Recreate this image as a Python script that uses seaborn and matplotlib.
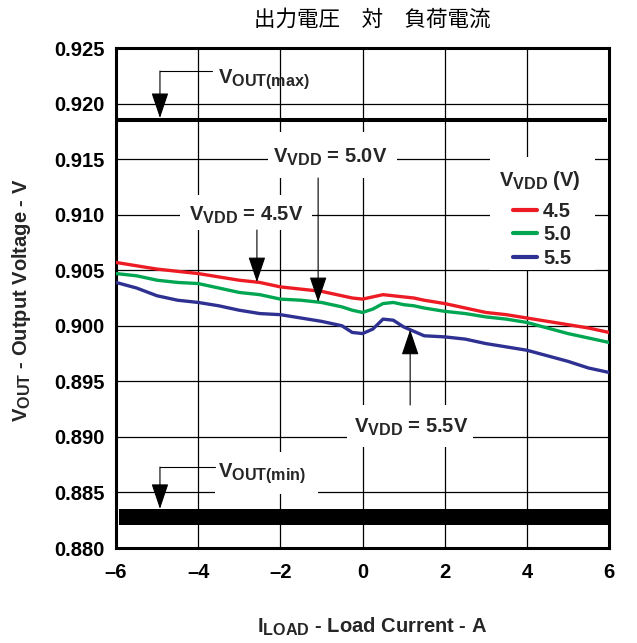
import numpy as np
import pandas as pd
import matplotlib
matplotlib.use("Agg")
import matplotlib.pyplot as plt
import matplotlib._mathtext as mathtext_internals
import seaborn as sns
from matplotlib.patches import Rectangle

# Load current sweep (A) and measured output voltage (V) for each supply voltage
load_current = [-6, -5.5, -5, -4.5, -4, -3.5, -3, -2.5, -2, -1.5, -1, -0.5, -0.25,
                0, 0.25, 0.5, 0.75, 1, 1.25, 1.5, 2, 2.5, 3, 3.5, 4, 4.5, 5, 5.5, 6]
vout_vdd_45 = [0.9057, 0.9054, 0.9051, 0.9049, 0.9047, 0.9044, 0.9041, 0.9039, 0.9035,
               0.9033, 0.9031, 0.9027, 0.9025, 0.9024, 0.9026, 0.9028, 0.9027, 0.9026,
               0.9025, 0.9023, 0.9020, 0.9016, 0.9012, 0.9010, 0.9007, 0.9004, 0.9001,
               0.8998, 0.8994]
vout_vdd_50 = [0.9047, 0.9045, 0.9041, 0.9039, 0.9038, 0.9034, 0.9030, 0.9028, 0.9024,
               0.9023, 0.9021, 0.9017, 0.9014, 0.9012, 0.9015, 0.9020, 0.9021, 0.9019,
               0.9018, 0.9016, 0.9013, 0.9011, 0.9008, 0.9006, 0.9003, 0.8998, 0.8993,
               0.8989, 0.8985]
vout_vdd_55 = [0.9039, 0.9034, 0.9027, 0.9023, 0.9021, 0.9018, 0.9014, 0.9011, 0.9010,
               0.9007, 0.9004, 0.9000, 0.8994, 0.8993, 0.8997, 0.9006, 0.9005, 0.8999,
               0.8995, 0.8991, 0.8990, 0.8988, 0.8984, 0.8981, 0.8978, 0.8973, 0.8968,
               0.8962, 0.8958]
vdd_labels = ["4.5", "5.0", "5.5"]
line_colors = ["#ED1C24", "#00A651", "#2E3192"]

# Output voltage limits (V)
vout_max = 0.9185
vout_min = 0.8828

x_ticks = [-6, -4, -2, 0, 2, 4, 6]
x_tick_labels = ["\u20136", "\u20134", "\u20132", "0", "2", "4", "6"]
y_ticks = [0.880, 0.885, 0.890, 0.895, 0.900, 0.905, 0.910, 0.915, 0.920, 0.925]
y_tick_labels = ["0.880", "0.885", "0.890", "0.895", "0.900", "0.905", "0.910",
                 "0.915", "0.920", "0.925"]

sns.set_theme(style="white")
plt.rcParams["font.family"] = ["Liberation Sans", "DejaVu Sans"]
plt.rcParams["font.weight"] = "bold"
plt.rcParams["mathtext.fontset"] = "custom"
plt.rcParams["mathtext.rm"] = "Liberation Sans:bold"
plt.rcParams["mathtext.it"] = "Liberation Sans:bold"
plt.rcParams["mathtext.bf"] = "Liberation Sans:bold"
# slightly larger subscripts than the mathtext default
mathtext_internals.SHRINK_FACTOR = 0.8

series = {"4.5": vout_vdd_45, "5.0": vout_vdd_50, "5.5": vout_vdd_55}
df = pd.concat(
    [pd.DataFrame({"I": load_current, "V": v, "VDD": k}) for k, v in series.items()],
    ignore_index=True,
)

W, H = 637, 643
fig = plt.figure(figsize=(W / 100, H / 100), dpi=100)
ax = fig.add_axes([116 / W, 1 - 548 / H, 493 / W, 500 / H])

sns.lineplot(data=df, x="I", y="V", hue="VDD", hue_order=vdd_labels,
             palette=dict(zip(vdd_labels, line_colors)), linewidth=2.4,
             ax=ax, zorder=4)

fs = 14.5

ax.set_xlim(-6, 6)
ax.set_ylim(0.880, 0.925)
ax.set_xticks(x_ticks)
ax.set_xticklabels(x_tick_labels)
ax.set_yticks(y_ticks)
ax.set_yticklabels(y_tick_labels)
ax.tick_params(axis="both", length=0, labelsize=fs, colors="black")
ax.tick_params(axis="x", pad=11)
ax.tick_params(axis="y", pad=8)
for lab in ax.get_xticklabels() + ax.get_yticklabels():
    lab.set_fontweight("bold")
ax.set_xlabel("")
ax.set_ylabel("")
ax.set_axisbelow(True)
ax.grid(True, color="black", linewidth=0.9)
for sp in ax.spines.values():
    sp.set_visible(True)
    sp.set_color("black")
    sp.set_linewidth(2.2)

# Limit lines
ax.hlines(vout_max, -5.95, 5.95, color="black", linewidth=2.9, zorder=3)
ax.hlines(vout_min, -5.93, 6, color="black", linewidth=11.5, zorder=3,
          capstyle="butt")

arrow = dict(arrowstyle="-|>,head_length=0.8,head_width=0.27", color="black",
             lw=0.8, mutation_scale=20, shrinkA=0, shrinkB=0)


def white_box(x0, x1, y0, y1, z=2):
    ax.add_patch(Rectangle((x0, y0), x1 - x0, y1 - y0, facecolor="white",
                           edgecolor="none", zorder=z))


def curve_at(x, values):
    return float(np.interp(x, load_current, values))


vdd = r"$\mathrm{V}_{\mathrm{VDD}}$"

# VOUT(max) callout
ax.plot([-4.93, -3.66], [0.92293, 0.92293], color="black", lw=0.8, zorder=5)
ax.annotate("", xy=(-4.93, vout_max + 0.0002), xytext=(-4.93, 0.92293),
            arrowprops=arrow, zorder=5)
ax.text(-3.51, 0.92212, r"$\mathrm{V}_{\mathrm{OUT(max)}}$", fontsize=fs,
        fontweight="bold", va="center", ha="left", zorder=5)

# VOUT(min) callout
white_box(-3.59, -1.08, 0.88486, 0.88864)
ax.plot([-4.93, -3.59], [0.88729, 0.88729], color="black", lw=0.8, zorder=5)
ax.annotate("", xy=(-4.93, vout_min + 0.00072), xytext=(-4.93, 0.88729),
            arrowprops=arrow, zorder=5)
ax.text(-3.52, 0.88666, r"$\mathrm{V}_{\mathrm{OUT(min)}}$", fontsize=fs,
        fontweight="bold", va="center", ha="left", zorder=5)

# VDD = 5.0 V callout
white_box(-2.30, 0.84, 0.9133, 0.91744)
ax.text(-0.79, 0.91519, vdd + " = 5.0V", fontsize=fs, fontweight="bold",
        va="center", ha="center", zorder=5)
ax.annotate("", xy=(-1.08, curve_at(-1.08, vout_vdd_50)), xytext=(-1.08, 0.9133),
            arrowprops=arrow, zorder=5)

# VDD = 4.5 V callout
white_box(-4.44, -1.23, 0.90862, 0.91177)
ax.text(-2.84, 0.90997, vdd + " = 4.5V", fontsize=fs, fontweight="bold",
        va="center", ha="center", zorder=5)
ax.annotate("", xy=(-2.57, curve_at(-2.57, vout_vdd_45)), xytext=(-2.57, 0.90862),
            arrowprops=arrow, zorder=5)

# VDD = 5.5 V callout
white_box(-0.38, 2.69, 0.88909, 0.89287)
ax.text(1.18, 0.89089, vdd + " = 5.5V", fontsize=fs, fontweight="bold",
        va="center", ha="center", zorder=5)
ax.annotate("", xy=(1.16, curve_at(1.16, vout_vdd_55)), xytext=(1.16, 0.89287),
            arrowprops=arrow, zorder=5)

# Legend: white panel, heading, then the series entries
white_box(3.10, 5.66, 0.90502, 0.91519, z=5)
ax.text(4.32, 0.91312, vdd + " (V)", fontsize=fs, fontweight="bold",
        va="center", ha="center", zorder=6)
handles, labels = ax.get_legend_handles_labels()
leg = ax.legend(handles, labels, loc="center left",
                bbox_to_anchor=((513 - 116) / 493, (548 - 235) / 500),
                fontsize=fs, frameon=False, handlelength=1.2, handletextpad=0.3,
                labelspacing=0.22, borderpad=0, borderaxespad=0)
for t in leg.get_texts():
    t.set_fontweight("bold")
for lh in leg.get_lines():
    lh.set_linewidth(3)
leg.set_zorder(7)

# Titles and axis labels
fig.text(372 / W, 1 - 20 / H, "出力電圧\u3000対\u3000負荷電流",
         family=["Noto Sans CJK JP", "DejaVu Sans"], fontsize=15.5,
         fontweight="normal", ha="center", va="center", color="black")
fig.text(372 / W, 1 - 627 / H, r"$\mathrm{I}_{\mathrm{LOAD}}$ - Load Current - A",
         fontsize=fs, fontweight="bold", ha="center", va="center")
fig.text(22 / W, 1 - 300 / H, r"$\mathrm{V}_{\mathrm{OUT}}$ - Output Voltage - V",
         fontsize=fs, fontweight="bold", ha="center", va="center", rotation=90)

fig.savefig("out.png", dpi=100, facecolor="white")
